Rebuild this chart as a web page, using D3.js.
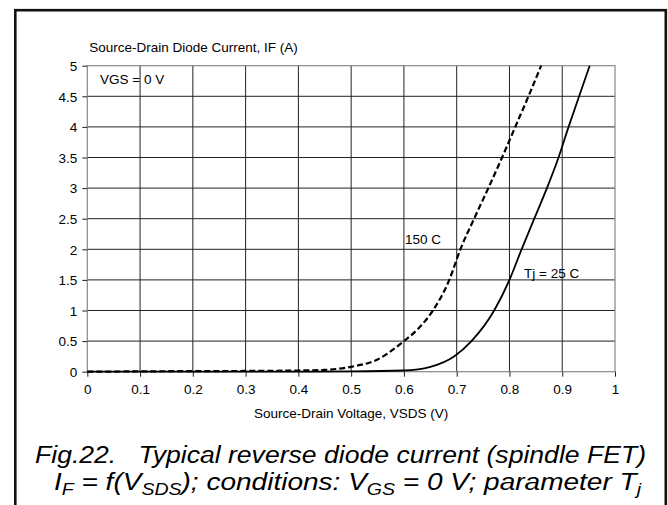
<!DOCTYPE html>
<html>
<head>
<meta charset="utf-8">
<script src="https://cdn.jsdelivr.net/npm/d3@7"></script>
<style>
  body { margin: 0; background: #fff; }
  svg { display: block; font-family: "Liberation Sans", Arial, sans-serif; }
</style>
</head>
<body>
<svg id="chart" width="668" height="505"></svg>
<script>
// values
var vHot = [0, 0.1, 0.2, 0.3, 0.4, 0.45, 0.5, 0.55, 0.6, 0.628, 0.655, 0.686, 0.707, 0.733, 0.76, 0.786, 0.811, 0.836, 0.86];
var iHot = [0, 0.005, 0.01, 0.012, 0.02, 0.03, 0.08, 0.2, 0.5, 0.71, 1.0, 1.5, 2.0, 2.5, 3.0, 3.5, 4.0, 4.5, 5.0];

var vCold = [0, 0.1, 0.2, 0.3, 0.4, 0.5, 0.6, 0.65, 0.695, 0.728, 0.771, 0.8, 0.823, 0.847, 0.871, 0.893, 0.912, 0.932, 0.952];
var iCold = [0, 0, 0, 0, 0.002, 0.005, 0.02, 0.08, 0.25, 0.5, 1.0, 1.5, 2.0, 2.5, 3.0, 3.5, 4.0, 4.5, 5.0];

var xTicks = [0, 0.1, 0.2, 0.3, 0.4, 0.5, 0.6, 0.7, 0.8, 0.9, 1];
var yTicks = [0, 0.5, 1, 1.5, 2, 2.5, 3, 3.5, 4, 4.5, 5];

var svg = d3.select('#chart');
var width = +svg.attr('width');
var height = +svg.attr('height');

var margin = {top: 65.7, right: 53, bottom: 133.3, left: 87.3};

var x = d3.scaleLinear().domain([0, 1]).range([margin.left, width - margin.right]);
var y = d3.scaleLinear().domain([0, 5]).range([height - margin.bottom, margin.top]);

var labelSize = '13.5px';

// outer frame (bottom runs off the page)
svg.append('rect')
    .attr('x', 15.3).attr('y', 10.2)
    .attr('width', 650.5).attr('height', 600)
    .attr('fill', 'none')
    .attr('stroke', '#111')
    .attr('stroke-width', 2.6);

//-----------------------------------------------------------------------------
// grid
var grid = svg.append('g');
grid.selectAll('.vgrid')
    .data(xTicks.slice(1, -1))
    .enter().append('line')
    .attr('x1', function(d) { return x(d); })
    .attr('x2', function(d) { return x(d); })
    .attr('y1', y(0)).attr('y2', y(5))
    .attr('stroke', '#222').attr('stroke-width', 1);
grid.selectAll('.hgrid')
    .data(yTicks.slice(1, -1))
    .enter().append('line')
    .attr('y1', function(d) { return y(d); })
    .attr('y2', function(d) { return y(d); })
    .attr('x1', x(0)).attr('x2', x(1))
    .attr('stroke', '#222').attr('stroke-width', 1);

// plot border
svg.append('rect')
    .attr('x', x(0)).attr('y', y(5))
    .attr('width', x(1) - x(0)).attr('height', y(0) - y(5))
    .attr('fill', 'none')
    .attr('stroke', '#888')
    .attr('stroke-width', 1.2);

//-----------------------------------------------------------------------------
// axes
var xAxis = d3.axisBottom(x).tickValues(xTicks).tickSizeInner(5).tickSizeOuter(0).tickPadding(8)
    .tickFormat(function(d) { return d3.format('')(d); });
var yAxis = d3.axisLeft(y).tickValues(yTicks).tickSizeInner(5).tickSizeOuter(0).tickPadding(5)
    .tickFormat(function(d) { return d3.format('')(d); });

var gx = svg.append('g').attr('transform', 'translate(0,' + y(0) + ')').call(xAxis);
var gy = svg.append('g').attr('transform', 'translate(' + x(0) + ',0)').call(yAxis);
[gx, gy].forEach(function(g) {
    g.attr('font-size', null).attr('font-family', null);
    g.select('.domain').remove();
    g.selectAll('.tick line').attr('stroke', '#222');
    g.selectAll('.tick text')
        .attr('fill', '#000')
        .style('font-size', labelSize);
});
gy.selectAll('.tick text').attr('dy', '0.36em');

svg.append('text')
    .attr('x', x(0) + 2).attr('y', 52)
    .style('font-size', labelSize)
    .text('Source-Drain Diode Current, IF (A)');

svg.append('text')
    .attr('x', (x(0) + x(1)) / 2).attr('y', 418)
    .attr('text-anchor', 'middle')
    .style('font-size', labelSize)
    .text('Source-Drain Voltage, VSDS (V)');

//-----------------------------------------------------------------------------
// curves
var line = d3.line()
    .x(function(d) { return x(d[0]); })
    .y(function(d) { return y(d[1]); })
    .curve(d3.curveMonotoneX);

svg.append('path')
    .datum(d3.zip(vCold, iCold))
    .attr('d', line)
    .attr('fill', 'none')
    .attr('stroke', '#000')
    .attr('stroke-width', 1.8);

svg.append('path')
    .datum(d3.zip(vHot, iHot))
    .attr('d', line)
    .attr('fill', 'none')
    .attr('stroke', '#000')
    .attr('stroke-width', 2.2)
    .attr('stroke-dasharray', '6,3');

// curve labels
svg.append('text').attr('x', 100).attr('y', 84).style('font-size', labelSize).text('VGS = 0 V');
svg.append('text').attr('x', 405).attr('y', 244).style('font-size', labelSize).text('150 C');
svg.append('text').attr('x', 524).attr('y', 278).style('font-size', labelSize).text('Tj = 25 C');

//-----------------------------------------------------------------------------
// caption
svg.append('text')
    .attr('x', 35).attr('y', 463)
    .attr('textLength', 611)
    .attr('lengthAdjust', 'spacingAndGlyphs')
    .style('font-size', '23px')
    .style('font-style', 'italic')
    .style('white-space', 'pre')
    .text('Fig.22.   Typical reverse diode current (spindle FET)');

var cap = svg.append('text')
    .attr('x', 54).attr('y', 490)
    .attr('textLength', 587)
    .attr('lengthAdjust', 'spacingAndGlyphs')
    .style('font-size', '23px')
    .style('font-style', 'italic')
    .style('white-space', 'pre');

var parts = [
    ['I', false], ['F', true], [' = f(V', false], ['SDS', true],
    ['); conditions: V', false], ['GS', true], [' = 0 V; parameter T', false], ['j', true]
];
parts.forEach(function(p, i) {
    var prevSub = i > 0 && parts[i - 1][1];
    var t = cap.append('tspan').text(p[0]);
    if (p[1]) {
        t.style('font-size', '16px').attr('dy', 5);
    } else if (prevSub) {
        t.attr('dy', -5);
    }
});
</script>
</body>
</html>
